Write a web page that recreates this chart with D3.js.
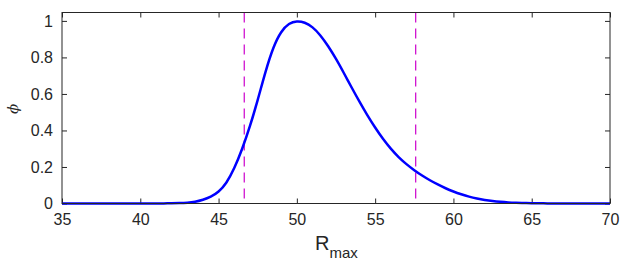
<!DOCTYPE html>
<html lang="en">
<head>
    <meta charset="UTF-8">
    <script src="https://d3js.org/d3.v7.min.js"></script>
    <style>
        body { margin: 0; background: #fff; }
        svg text { font-family: "Liberation Sans", Arial, sans-serif; fill: #262626; }
        .tick text { font-size: 16px; }
    </style>
    <title>phi vs Rmax</title>
</head>
<body>
    <svg width="634" height="263"></svg>
    <script>
        // curve, every 0.5
        const rmax = d3.range(35, 70.01, 0.5);
        const phi = [
            0, 0, 0, 0, 0, 0, 0, 0, 0, 0, 0, 0, 0, 0.0005,           // 35 .. 41.5
            0.001, 0.002, 0.004, 0.009, 0.02, 0.036, 0.062, 0.11,    // 42 .. 45.5
            0.19, 0.295, 0.42, 0.565, 0.725, 0.86, 0.945, 0.988,     // 46 .. 49.5
            1.0, 0.993, 0.968, 0.923, 0.863, 0.793, 0.715, 0.635,    // 50 .. 53.5
            0.557, 0.483, 0.415, 0.353, 0.299, 0.253, 0.215, 0.182,  // 54 .. 57.5
            0.153, 0.127, 0.104, 0.083, 0.065, 0.05, 0.037, 0.027,   // 58 .. 61.5
            0.019, 0.013, 0.009, 0.006, 0.004, 0.0025, 0.0015, 0.001, // 62 .. 65.5
            0.0005, 0, 0, 0, 0, 0, 0, 0, 0                           // 66 .. 70
        ];
        const bounds = [46.64, 57.59];
        const xTicks = [35, 40, 45, 50, 55, 60, 65, 70];
        const yTicks = [0, 0.2, 0.4, 0.6, 0.8, 1];

        const svg = d3.select('svg');
        const margin = { top: 12.5, right: 24, bottom: 59.5, left: 62 };
        const width = +svg.attr('width'), height = +svg.attr('height');
        const innerWidth = width - margin.left - margin.right;
        const innerHeight = height - margin.top - margin.bottom;

        const x = d3.scaleLinear().domain([35, 70]).range([0, innerWidth]);
        const y = d3.scaleLinear().domain([0, 1.046]).range([innerHeight, 0]);

        const g = svg.append('g')
            .attr('transform', `translate(${margin.left}, ${margin.top})`);

        const axisColor = '#262626';
        const tickLen = 5;

        // bottom + left axes with labels, ticks pointing in
        const gx = g.append('g')
            .attr('transform', `translate(0, ${innerHeight})`)
            .call(d3.axisBottom(x).tickValues(xTicks).tickSize(-tickLen).tickPadding(10).tickFormat(d3.format('d')));
        const gy = g.append('g')
            .call(d3.axisLeft(y).tickValues(yTicks).tickSize(-tickLen).tickPadding(9).tickFormat(d => d));
        // top + right mirrored ticks, no labels
        const gt = g.append('g')
            .call(d3.axisTop(x).tickValues(xTicks).tickSize(-tickLen));
        const gr = g.append('g')
            .attr('transform', `translate(${innerWidth}, 0)`)
            .call(d3.axisRight(y).tickValues(yTicks).tickSize(-tickLen));
        gt.selectAll('text').remove();
        gr.selectAll('text').remove();

        [gx, gy, gt, gr].forEach(a => {
            a.select('.domain').remove();
            a.selectAll('line').attr('stroke', axisColor);
        });
        gx.selectAll('text').attr('dy', '0.72em');

        // dashed bound lines
        g.selectAll('line.bound')
            .data(bounds)
            .enter()
            .append('line')
            .attr('class', 'bound')
            .attr('x1', d => x(d)).attr('x2', d => x(d))
            .attr('y1', 0).attr('y2', innerHeight)
            .attr('stroke', '#cc00cc')
            .attr('stroke-width', 1.2)
            .attr('stroke-dasharray', '10 6');

        // curve
        const line = d3.line()
            .x((d, i) => x(rmax[i]))
            .y(d => y(d))
            .curve(d3.curveBasis);
        g.append('path')
            .datum(phi)
            .attr('fill', 'none')
            .attr('stroke', '#0000ff')
            .attr('stroke-width', 2.5)
            .attr('d', line);

        // box
        g.append('rect')
            .attr('width', innerWidth)
            .attr('height', innerHeight)
            .attr('fill', 'none')
            .attr('stroke', axisColor)
            .attr('stroke-width', 1);

        // axis labels
        const xl = svg.append('text')
            .attr('x', 315)
            .attr('y', 250)
            .style('font-size', '20px');
        xl.append('tspan').text('R');
        xl.append('tspan').attr('dy', 8).style('font-size', '15px').text('max');

        svg.append('text')
            .attr('transform', `translate(18, ${margin.top + innerHeight / 2 + 1}) rotate(-90)`)
            .attr('text-anchor', 'middle')
            .style('font-size', '15px')
            .style('font-style', 'italic')
            .style('font-family', '"DejaVu Serif", serif')
            .text('ϕ');
    </script>
</body>
</html>
